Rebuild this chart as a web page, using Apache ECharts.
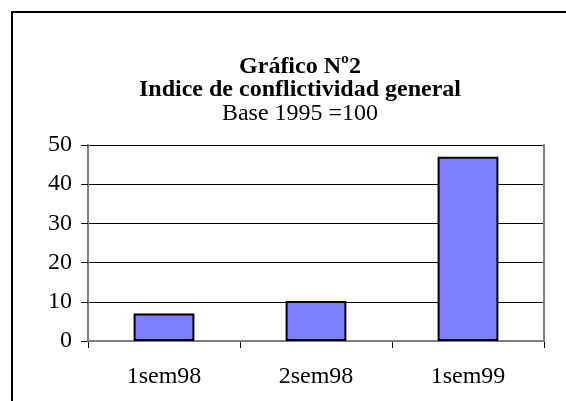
<!DOCTYPE html>
<html>
<head>
<meta charset="utf-8">
<script src="https://cdn.jsdelivr.net/npm/echarts@6/dist/echarts.min.js"></script>
<style>
html,body{margin:0;padding:0;background:#fff;}
#chart{width:566px;height:401px;}
</style>
</head>
<body>
<div id="chart"></div>
<script>
var categories = ['1sem98', '2sem98', '1sem99'];
var values = [7, 10.2, 47];
var yTicks = [0, 10, 20, 30, 40, 50];

var font = 'Liberation Serif';

var chart = echarts.init(document.getElementById('chart'));
var option = {
	animation: false,
	backgroundColor: '#fff',
	title: {
		left: 300,
		textAlign: 'center',
		top: 55,
		text: 'Gráfico Nº2\nIndice de conflictividad general',
		textStyle: {fontFamily: font, fontSize: 24, fontWeight: 'bold', color: '#000', lineHeight: 23},
		subtext: 'Base 1995 =100',
		subtextStyle: {fontFamily: font, fontSize: 24, color: '#000', lineHeight: 23},
		itemGap: 0,
		padding: 0
	},
	graphic: [{
		type: 'polyline',
		shape: {points: [[12, 410], [12, 12], [570, 12]]},
		style: {stroke: '#000', lineWidth: 2, fill: null}
	}],
	grid: {left: 88, right: 22, top: 145, bottom: 60},
	xAxis: [{
		type: 'category',
		data: categories,
		axisLine: {lineStyle: {color: '#808080', width: 2}},
		axisTick: {show: true, inside: false, length: 7, lineStyle: {color: '#000', width: 1}},
		axisLabel: {fontFamily: font, fontSize: 24, color: '#000', margin: 24}
	}, {
		type: 'category',
		data: categories,
		position: 'top',
		z: 5,
		axisLine: {lineStyle: {color: '#808080', width: 2}},
		axisTick: {show: false},
		axisLabel: {show: false}
	}],
	yAxis: [{
		type: 'value',
		min: yTicks[0],
		max: yTicks[yTicks.length - 1],
		interval: 10,
		axisLine: {show: true, lineStyle: {color: '#808080', width: 2}},
		axisTick: {show: true, length: 7, lineStyle: {color: '#000'}},
		axisLabel: {fontFamily: font, fontSize: 24, color: '#000', margin: 16},
		splitLine: {show: true, lineStyle: {color: '#000', width: 1}}
	}, {
		type: 'value',
		position: 'right',
		min: yTicks[0],
		max: yTicks[yTicks.length - 1],
		interval: 10,
		z: 5,
		axisLine: {show: true, lineStyle: {color: '#808080', width: 2}},
		axisTick: {show: false},
		axisLabel: {show: false},
		splitLine: {show: false}
	}],
	series: [{
		type: 'bar',
		data: values,
		barWidth: '40%',
		z: 6,
		itemStyle: {color: '#8080ff', borderColor: '#000', borderWidth: 2}
	}]
};
chart.setOption(option);
</script>
</body>
</html>
